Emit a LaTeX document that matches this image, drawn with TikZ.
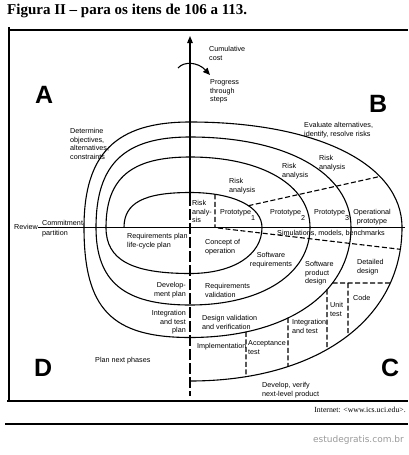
\documentclass[tikz,border=0pt]{standalone}
\usepackage{fontspec}
\setmainfont{Liberation Sans}
\newfontfamily\serifface{Liberation Serif}
\newfontfamily\dejavuface{DejaVu Sans}
\usetikzlibrary{calc,intersections,arrows.meta}
\newcommand\ltab[1]{\begin{tabular}[t]{@{}l@{}}#1\end{tabular}}
\newcommand\rtab[1]{\begin{tabular}[t]{@{}r@{}}#1\end{tabular}}
\newcommand\ctab[1]{\begin{tabular}[t]{@{}c@{}}#1\end{tabular}}
\newcommand\kl{0.7}
\newcommand\kr{0.6}
\begin{document}
\begin{tikzpicture}[x=1pt,y=-1pt,
  sp/.style={line width=1.1pt},
  dsh/.style={line width=1.1pt, dash pattern=on 5pt off 2.5pt},
  lab/.style={font=\fontsize{7.2}{8.7}\selectfont, inner sep=0pt, anchor=base west},
  labr/.style={lab, anchor=base east},
  labc/.style={lab, anchor=base},
  big/.style={font=\fontsize{25}{25}\selectfont\bfseries, inner sep=0pt, anchor=base west}]
\useasboundingbox (0,0) rectangle (408,455);
% title
\node[inner sep=0pt, anchor=base west, font=\serifface\fontsize{15}{16}\selectfont\bfseries] (title) at (7,14) {Figura II – para os itens de 106 a 113.};
% frame
\draw[line width=1.1pt] (9,27) -- (9,401);
\draw[line width=1.1pt] (9,30) -- (408,30);
\draw[line width=1.1pt] (7,401) -- (408,401);
\node[inner sep=0pt, anchor=base east, font=\serifface\fontsize{7.8}{9}\selectfont] (inet) at (406,412.5) {Internet: <www.ics.uci.edu>.};
\draw[line width=1.1pt] (5,424) -- (408,424);
\node[inner sep=0pt, anchor=base east, text=black!40, font=\dejavuface\fontsize{9}{10}\selectfont] (site) at (404,442) {estudegratis.com.br};
% spiral key points
\coordinate (L1) at (124,227.5); \coordinate (T1) at (190,192.5); \coordinate (R1) at (262,227.5); \coordinate (B1) at (190,273.5);
\coordinate (L2) at (106,227.5); \coordinate (T2) at (190,157); \coordinate (R2) at (310,227.5); \coordinate (B2) at (190,305);
\coordinate (L3) at (96,227.5);  \coordinate (T3) at (190,137); \coordinate (R3) at (351,227.5); \coordinate (B3) at (190,337.5);
\coordinate (L4) at (84,227.5);  \coordinate (T4) at (190,122); \coordinate (R4) at (402,227.5); \coordinate (B4) at (190,381);
% axes
\coordinate (ytop) at (190,36);
\coordinate (ymid) at (190,195);
\coordinate (ybot) at (190,396);
\draw[line width=1.1pt, -{Triangle[length=7pt,width=5.5pt]}] (ymid) -- (ytop);
\draw[line width=1.1pt, dash pattern=on 11pt off 3pt] (ymid) -- (ybot);
\coordinate (xl) at (38,227.5);
\coordinate (xr) at (405,227.5);
\draw[line width=1.1pt] (xl) -- (xr);
% progress arrow
\coordinate (pa) at (178,68);
\coordinate (pb) at (210,75);
\draw[line width=1.1pt, -{Triangle[length=7pt,width=6pt]}] (pa) .. controls (184,61) and (198,62) .. (pb);
% spiral
\draw[sp] (L1) .. controls ($(L1)!\kl!(L1|-T1)$) and ($(T1)!\kl!(L1|-T1)$) .. (T1)
  .. controls ($(T1)!\kr!(R1|-T1)$) and ($(R1)!\kr!(R1|-T1)$) .. (R1)
  .. controls ($(R1)!\kr!(R1|-B1)$) and ($(B1)!\kr!(R1|-B1)$) .. (B1)
  .. controls ($(B1)!\kl!(L2|-B1)$) and ($(L2)!\kl!(L2|-B1)$) .. (L2)
  .. controls ($(L2)!\kl!(L2|-T2)$) and ($(T2)!\kl!(L2|-T2)$) .. (T2)
  .. controls ($(T2)!\kr!(R2|-T2)$) and ($(R2)!\kr!(R2|-T2)$) .. (R2)
  .. controls ($(R2)!\kr!(R2|-B2)$) and ($(B2)!\kr!(R2|-B2)$) .. (B2)
  .. controls ($(B2)!\kl!(L3|-B2)$) and ($(L3)!\kl!(L3|-B2)$) .. (L3)
  .. controls ($(L3)!\kl!(L3|-T3)$) and ($(T3)!\kl!(L3|-T3)$) .. (T3)
  .. controls ($(T3)!\kr!(R3|-T3)$) and ($(R3)!\kr!(R3|-T3)$) .. (R3)
  .. controls ($(R3)!\kr!(R3|-B3)$) and ($(B3)!\kr!(R3|-B3)$) .. (B3)
  .. controls ($(B3)!0.74!(L4|-B3)$) and ($(L4)!0.74!(L4|-B3)$) .. (L4)
  .. controls ($(L4)!\kl!(L4|-T4)$) and ($(T4)!\kl!(L4|-T4)$) .. (T4)
  .. controls ($(T4)!\kr!(R4|-T4)$) and ($(R4)!\kr!(R4|-T4)$) .. (R4)
  .. controls ($(R4)!\kr!(R4|-B4)$) and ($(B4)!\kr!(R4|-B4)$) .. (B4);
% named quarter paths for dashed dividers
\path[name path=u1] (T1) .. controls ($(T1)!\kr!(R1|-T1)$) and ($(R1)!\kr!(R1|-T1)$) .. (R1);
\path[name path=u4] (T4) .. controls ($(T4)!\kr!(R4|-T4)$) and ($(R4)!\kr!(R4|-T4)$) .. (R4);
\path[name path=c3] (R3) .. controls ($(R3)!\kr!(R3|-B3)$) and ($(B3)!\kr!(R3|-B3)$) .. (B3);
\path[name path=c4] (R4) .. controls ($(R4)!\kr!(R4|-B4)$) and ($(B4)!\kr!(R4|-B4)$) .. (B4);
% B quadrant dividers
\path[name path=bl] (225,210.9) -- (405,170.9);
\path[name intersections={of=bl and u1, by=bA}];
\path[name intersections={of=bl and u4, by=bB}];
\draw[dsh] (bA) -- (bB);
\path[name path=pv] (215,180) -- (215,228);
\path[name intersections={of=pv and u1, by=pA}];
\coordinate (pB) at (215,227.5);
\draw[dsh] (pA) -- (pB);
% C quadrant dividers
\coordinate (sA) at (218,228);
\path[name path=sl] (sA) -- (415,251);
\path[name intersections={of=sl and c4, by=sB}];
\draw[dsh] (sA) -- (sB);
\path[name path=va] (246,229) -- (246,400);
\path[name intersections={of=va and c3, by=ta}];
\path[name intersections={of=va and c4, by=wa}];
\draw[dsh] (ta) -- (wa);
\path[name path=vb] (288,229) -- (288,400);
\path[name intersections={of=vb and c3, by=tb}];
\path[name intersections={of=vb and c4, by=wb}];
\draw[dsh] (tb) -- (wb);
\path[name path=vc] (327,229) -- (327,400);
\path[name intersections={of=vc and c3, by=tc}];
\path[name intersections={of=vc and c4, by=wc}];
\draw[dsh] (tc) -- (wc);
\path[name path=hz] (300,283) -- (408,283);
\path[name intersections={of=hz and c3, by=hA}];
\path[name intersections={of=hz and c4, by=hB}];
\draw[dsh] (hA) -- (hB);
\coordinate (cA) at (348,283);
\path[name path=vd] (348,283) -- (348,400);
\path[name intersections={of=vd and c4, by=cB}];
\draw[dsh] (cA) -- (cB);
% big letters
\node[big] (A) at (35,103) {A};
\node[big] (B) at (369,112) {B};
\node[big] (C) at (381,376) {C};
\node[big] (D) at (34,376) {D};
% labels
\node[lab] (cum) at (209,51.5) {\ltab{Cumulative\\cost}};
\node[lab] (prog) at (210,84.5) {\ltab{Progress\\through\\steps}};
\node[lab] (det) at (70,133.5) {\ltab{Determine\\objectives,\\alternatives,\\constraints}};
\node[lab] (eva) at (304,127.5) {\ltab{Evaluate alternatives,\\identify, resolve risks}};
\node[lab] (ra1) at (229,183.5) {\ltab{Risk\\analysis}};
\node[lab] (ra2) at (282,168.5) {\ltab{Risk\\analysis}};
\node[lab] (ra3) at (319,160.5) {\ltab{Risk\\analysis}};
\node[lab] (ra0) at (192,205.5) {\ltab{Risk\\analy-\\sis}};
\node[lab] (p1) at (220,214.5) {Prototype\raisebox{-5.5pt}{1}};
\node[lab] (p2) at (270,214.5) {Prototype\raisebox{-5.5pt}{2}};
\node[lab] (p3) at (314,214.5) {Prototype\raisebox{-5.5pt}{3}};
\node[labc] (op) at (372,214.5) {\ctab{Operational\\prototype}};
\node[lab] (sim) at (277,235) {Simulations, models, benchmarks};
\node[lab] (rev) at (14,229.5) {Review};
\node[lab] (com) at (42,225) {Commitment};
\node[lab] (par) at (42,235) {partition};
\node[lab] (rp) at (127,238.5) {\ltab{Requirements plan\\life-cycle plan}};
\node[lab] (co) at (205,244.5) {\ltab{Concept of\\operation}};
\node[labc] (sr) at (271,257.5) {\ctab{Software\\requirements}};
\node[lab] (spd) at (305,266.5) {\ltab{Software\\product\\design}};
\node[lab] (dd) at (357,264.5) {\ltab{Detailed\\design}};
\node[lab] (code) at (353,300.5) {Code};
\node[lab] (ut) at (330,307.5) {\ltab{Unit\\test}};
\node[lab] (it) at (292,324.5) {\ltab{Integration\\and test}};
\node[lab] (at) at (248,345.5) {\ltab{Acceptance\\test}};
\node[lab] (imp) at (197,348.5) {Implementation};
\node[lab] (dv) at (202,320.5) {\ltab{Design validation\\and verification}};
\node[lab] (rv) at (205,288.5) {\ltab{Requirements\\validation}};
\node[labr] (dp) at (186,287.5) {\rtab{Develop-\\ment plan}};
\node[labr] (itp) at (186,315.5) {\rtab{Integration\\and test\\plan}};
\node[lab] (pnp) at (95,362.5) {Plan next phases};
\node[lab] (dvn) at (262,387.5) {\ltab{Develop, verify\\next-level product}};
\end{tikzpicture}
\end{document}
